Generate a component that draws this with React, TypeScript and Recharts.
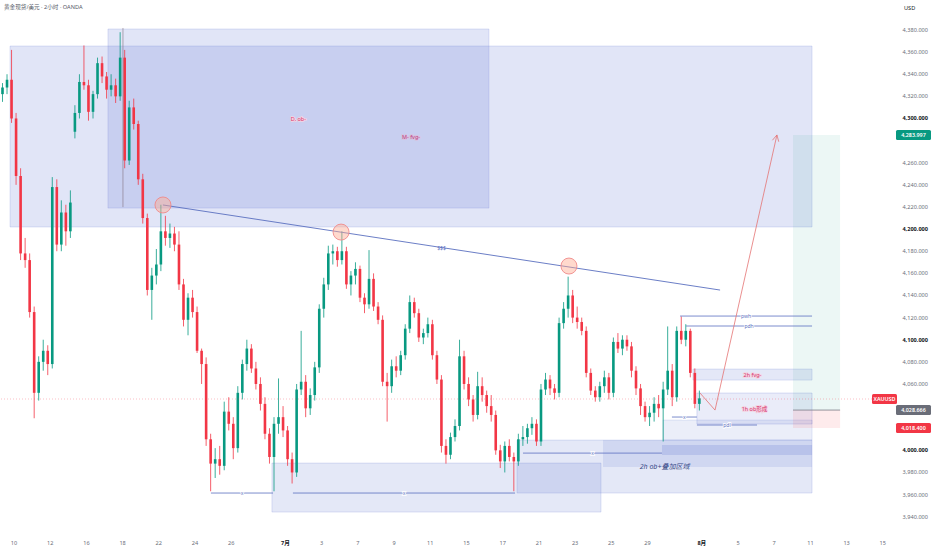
import React from 'react';
import {
  ComposedChart,
  Bar,
  XAxis,
  YAxis,
  ReferenceArea,
  ReferenceLine,
  ReferenceDot,
} from 'recharts';

// candles: four per trading day
const opens = [
  4322, 4328, 4335, 4300, 4248, 4178, 4172, 4125, 4052, 4080,
  4090, 4078, 4238, 4186, 4215, 4198, 4288, 4305, 4333, 4330,
  4306, 4322, 4350, 4338, 4326, 4330, 4320, 4355, 4262, 4310,
  4295, 4245, 4210, 4145, 4158, 4168, 4198, 4192, 4196, 4186,
  4150, 4118, 4138, 4125, 4090, 4078, 4010, 3988, 3992, 3986,
  4035, 4024, 4002, 4052, 4078, 4092, 4074, 4060, 4042, 4015,
  3994, 4024, 4030, 4018, 3992, 3980, 4055, 4062, 4038, 4050,
  4075, 4128, 4150, 4178, 4180, 4172, 4180, 4150, 4158, 4164,
  4138, 4132, 4155, 4130, 4118, 4062, 4058, 4076, 4072, 4086,
  4110, 4134, 4124, 4102, 4106, 4114, 4086, 4064, 4004, 3996,
  4012, 4022, 4085, 4060, 4046, 4032, 4058, 4050, 4040, 4032,
  4000, 3990, 4004, 3994, 3990, 4010, 4012, 4020, 4024, 4008,
  4055, 4064, 4056, 4052, 4115, 4128, 4140, 4120, 4116, 4108,
  4070, 4054, 4048, 4058, 4066, 4052, 4098, 4092, 4100, 4094,
  4072, 4056, 4040, 4030, 4034, 4042, 4038, 4055, 4072, 4048,
  4108, 4100, 4108, 4070, 4042,
];
const highs = [
  4332, 4340, 4362, 4305, 4255, 4192, 4178, 4130, 4085, 4100,
  4095, 4247, 4245, 4226, 4222, 4235, 4312, 4340, 4366, 4335,
  4325, 4355, 4356, 4342, 4340, 4336, 4378, 4362, 4316, 4318,
  4298, 4250, 4214, 4165, 4182, 4222, 4212, 4205, 4202, 4198,
  4155, 4142, 4145, 4130, 4092, 4084, 4015, 4002, 4004, 4044,
  4048, 4030, 4058, 4082, 4100, 4096, 4080, 4066, 4048, 4020,
  4030, 4065, 4040, 4022, 3998, 4060, 4108, 4068, 4056, 4080,
  4132, 4156, 4185, 4186, 4184, 4198, 4184, 4162, 4170, 4167,
  4142, 4181, 4160, 4134, 4122, 4070, 4082, 4085, 4090, 4114,
  4140, 4138, 4128, 4110, 4120, 4118, 4090, 4068, 4010, 4016,
  4028, 4100, 4090, 4066, 4050, 4071, 4066, 4054, 4050, 4036,
  4005, 4008, 4010, 3998, 4015, 4022, 4024, 4030, 4028, 4060,
  4070, 4068, 4060, 4120, 4134, 4157, 4145, 4130, 4120, 4112,
  4074, 4058, 4062, 4072, 4070, 4102, 4106, 4104, 4104, 4098,
  4076, 4060, 4044, 4040, 4048, 4050, 4062, 4112, 4078, 4112,
  4121, 4114, 4110, 4074, 4054,
];
const lows = [
  4315, 4322, 4296, 4240, 4172, 4165, 4120, 4029, 4045, 4072,
  4068, 4074, 4180, 4180, 4185, 4192, 4282, 4300, 4326, 4298,
  4300, 4318, 4332, 4318, 4320, 4314, 4316, 4255, 4258, 4290,
  4240, 4205, 4140, 4118, 4150, 4162, 4185, 4183, 4180, 4145,
  4112, 4104, 4120, 4088, 4060, 4004, 3963, 3975, 3978, 3982,
  4018, 3992, 3998, 4046, 4072, 4070, 4055, 4036, 4010, 3988,
  3963, 4015, 4012, 3986, 3970, 3976, 4050, 4030, 4032, 4045,
  4070, 4120, 4145, 4168, 4166, 4168, 4146, 4140, 4150, 4134,
  4124, 4128, 4126, 4114, 4058, 4026, 4052, 4066, 4068, 4082,
  4106, 4120, 4098, 4096, 4102, 4082, 4060, 3998, 3988, 3992,
  4008, 4018, 4055, 4040, 4026, 4028, 4044, 4034, 4026, 3996,
  3984, 3980, 3990, 3963, 3986, 4004, 4006, 4014, 4004, 4004,
  4050, 4050, 4046, 4048, 4110, 4120, 4115, 4110, 4104, 4066,
  4050, 4044, 4044, 4052, 4046, 4048, 4088, 4086, 4090, 4066,
  4050, 4032, 4026, 4022, 4026, 4030, 4008, 4050, 4040, 4044,
  4096, 4094, 4066, 4038, 4036,
];
const closes = [
  4328, 4335, 4300, 4248, 4178, 4172, 4125, 4052, 4080, 4090,
  4078, 4238, 4186, 4215, 4198, 4224, 4305, 4333, 4330, 4306,
  4322, 4350, 4338, 4326, 4330, 4320, 4355, 4262, 4310, 4295,
  4245, 4210, 4145, 4158, 4168, 4198, 4192, 4196, 4186, 4150,
  4118, 4138, 4125, 4090, 4078, 4010, 3988, 3992, 3986, 4035,
  4024, 4002, 4052, 4078, 4092, 4074, 4060, 4042, 4015, 3994,
  4024, 4030, 4018, 3992, 3980, 4055, 4062, 4038, 4050, 4075,
  4128, 4150, 4178, 4180, 4172, 4180, 4150, 4158, 4164, 4138,
  4132, 4155, 4130, 4118, 4062, 4058, 4076, 4072, 4086, 4110,
  4134, 4124, 4102, 4106, 4114, 4086, 4064, 4004, 3996, 4012,
  4022, 4085, 4060, 4046, 4032, 4058, 4050, 4040, 4032, 4000,
  3990, 4004, 3994, 3990, 4010, 4012, 4020, 4024, 4008, 4055,
  4064, 4056, 4052, 4115, 4128, 4140, 4120, 4116, 4108, 4070,
  4054, 4048, 4058, 4066, 4052, 4098, 4092, 4100, 4094, 4072,
  4056, 4040, 4030, 4034, 4042, 4038, 4055, 4072, 4048, 4108,
  4100, 4108, 4070, 4042, 4047,
];

// time axis in trading days, day 0 = the "10" label
const firstCandleDay = -0.6485;
const candleStep = 0.25;
const dayTicks = [0, 2, 4, 6, 8, 10, 12, 15, 17, 19, 21, 23, 25, 27, 29, 31, 33, 35, 38, 40, 42, 44, 46, 48];
const dayLabels = ['10', '12', '16', '18', '22', '24', '26', '7月', '3', '7', '9', '11', '15', '17', '21', '23', '25', '29', '8月', '5', '7', '11', '13', '15'];
// 4,020 / 4,040 / 4,280 sit under the price badges, so they are not shown
const priceTicks = [
  3940, 3960, 3980, 4000, 4060, 4080, 4100, 4120, 4140, 4160,
  4180, 4200, 4220, 4240, 4260, 4300, 4320, 4340, 4360, 4380,
];

const lastPrice = 4046.4;
const longTarget = 4285.1;
const longEntry = 4036.4;
const longStop = 4020.1;

const candles = closes.map((c, i) => ({
  t: firstCandleDay + i * candleStep,
  range: [lows[i], highs[i]],
  open: opens[i],
  high: highs[i],
  low: lows[i],
  close: c,
}));

const UP = '#089981';
const DOWN = '#f23645';
const BOX = '#5a70d0';
const LINE = '#5a6fc0';
const PINK = '#d6336c';

const fmtPrice = (v: number) => {
  const [int, dec] = v.toFixed(3).split('.');
  return `${int.slice(0, -3)},${int.slice(-3)}.${dec}`;
};

const Candle = (props: any) => {
  const { x, y, width, height, payload } = props;
  if (!payload || height == null) return null;
  const { open, close, high, low } = payload;
  const color = close >= open ? UP : DOWN;
  const cx = x + width / 2;
  const span = high - low || 1;
  const py = (p: number) => y + ((high - p) / span) * height;
  const top = py(Math.max(open, close));
  const bot = py(Math.min(open, close));
  return (
    <g>
      <line x1={cx} x2={cx} y1={y} y2={y + height} stroke={color} strokeWidth={0.8} />
      <rect x={cx - 1.3} y={top} width={2.6} height={Math.max(bot - top, 0.8)} fill={color} />
    </g>
  );
};

const DayTick = (props: any) => {
  const { x, y, payload } = props;
  const label = dayLabels[dayTicks.indexOf(payload.value)] ?? '';
  const month = label.includes('月');
  return (
    <text x={x} y={y + 9} textAnchor="middle" fontSize={5.6} fill={month ? '#131722' : '#6a6d78'} fontWeight={month ? 700 : 400}>
      {label}
    </text>
  );
};

const PriceTick = (props: any) => {
  const { x, y, payload } = props;
  const strong = payload.value % 100 === 0;
  return (
    <text x={x + 30} y={y} textAnchor="end" dominantBaseline="central" fontSize={5.6} fill={strong ? '#131722' : '#6a6d78'} fontWeight={strong ? 700 : 400}>
      {fmtPrice(payload.value)}
    </text>
  );
};

const tag = (text: string, color: string, size = 5.5, halo = '#ffffff', italic = false) => (props: any) => {
  const vb = props.viewBox || {};
  const cx = (vb.x ?? 0) + (vb.width ?? 0) / 2;
  const cy = (vb.y ?? 0) + (vb.height ?? 0) / 2;
  return (
    <text
      x={cx}
      y={cy}
      textAnchor="middle"
      dominantBaseline="central"
      fontSize={size}
      fill={color}
      fontStyle={italic ? 'italic' : 'normal'}
      stroke={halo}
      strokeWidth={1.6}
      paintOrder="stroke"
    >
      {text}
    </text>
  );
};

const badge = (text: string, bg: string, inside = false) => (props: any) => {
  const vb = props.viewBox || {};
  const right = (vb.x ?? 0) + (vb.width ?? 0);
  const w = inside ? 25 : 35;
  const x = inside ? right - 18 : right + 6;
  const y = vb.y ?? 0;
  return (
    <g>
      <rect x={x} y={y - 5} width={w} height={10} rx={1.5} fill={bg} />
      <text x={x + w / 2} y={y} textAnchor="middle" dominantBaseline="central" fontSize={5.4} fill="#ffffff" fontWeight={600}>
        {text}
      </text>
    </g>
  );
};

const seg = (x1: number, y1: number, x2: number, y2: number) => [
  { x: x1, y: y1 },
  { x: x2, y: y2 },
];

const App: React.FC = () => {
  return (
    <div
      style={{
        position: 'absolute',
        left: 0,
        top: 0,
        width: 932,
        height: 550,
        background: '#ffffff',
        fontFamily: "'Noto Sans', 'Noto Sans CJK SC', sans-serif",
        overflow: 'hidden',
      }}
    >
      <ComposedChart width={932} height={550} data={candles} margin={{ top: 0, right: 0, bottom: 0, left: 0 }}>
        <XAxis
          dataKey="t"
          type="number"
          domain={[-0.7735, 48.397]}
          allowDataOverflow
          ticks={dayTicks}
          interval={0}
          tick={<DayTick />}
          tickLine={false}
          axisLine={false}
          height={22}
        />
        <YAxis
          orientation="right"
          domain={[3929.8, 4407.1]}
          allowDataOverflow
          ticks={priceTicks}
          interval={0}
          tick={<PriceTick />}
          tickLine={false}
          axisLine={false}
          width={42}
        />

        {/* supply zones */}
        <ReferenceArea x1={-0.22} x2={44.09} y1={4201.9} y2={4365.5} fill={BOX} fillOpacity={0.18} stroke={BOX} strokeOpacity={0.3} strokeWidth={0.6} label={tag('M- fvg-', PINK, 5.5, '#f4d4e2')} />
        <ReferenceArea x1={5.19} x2={26.24} y1={4219.0} y2={4380.9} fill={BOX} fillOpacity={0.18} stroke={BOX} strokeOpacity={0.3} strokeWidth={0.6} label={tag('D. ob-', PINK, 5.5, '#f4d4e2')} />

        {/* demand zones */}
        <ReferenceArea x1={14.25} x2={32.43} y1={3944.2} y2={3988.5} fill={BOX} fillOpacity={0.16} stroke={BOX} strokeOpacity={0.3} strokeWidth={0.6} />
        <ReferenceArea x1={27.79} x2={44.09} y1={3961.4} y2={4009.3} fill={BOX} fillOpacity={0.16} stroke={BOX} strokeOpacity={0.3} strokeWidth={0.6} label={tag('2h ob+叠加区域', '#34457f', 7, 'none', true)} />
        <ReferenceArea x1={32.54} x2={44.09} y1={3984.9} y2={4009.3} fill={BOX} fillOpacity={0.14} />
        <ReferenceArea x1={35.8} x2={44.09} y1={3995.7} y2={4004.8} fill={BOX} fillOpacity={0.2} />
        <ReferenceArea x1={35.86} x2={44.09} y1={4009.3} y2={4027.4} fill={BOX} fillOpacity={0.12} stroke={BOX} strokeOpacity={0.25} strokeWidth={0.6} />
        <ReferenceArea x1={37.73} x2={44.09} y1={4023.8} y2={4051.8} fill={BOX} fillOpacity={0.13} stroke={BOX} strokeOpacity={0.35} strokeWidth={0.6} label={tag('1h ob形成', PINK, 5.5, '#f4d4e2')} />
        <ReferenceArea x1={37.51} x2={44.09} y1={4063.5} y2={4073.5} fill={BOX} fillOpacity={0.16} stroke={BOX} strokeOpacity={0.3} strokeWidth={0.6} label={tag('2h fvg-', PINK, 5.5, '#f4d4e2')} />

        {/* long position */}
        <ReferenceArea x1={43.04} x2={45.64} y1={longEntry} y2={longTarget} fill={UP} fillOpacity={0.08} />
        <ReferenceArea x1={43.04} x2={45.64} y1={longStop} y2={longEntry} fill={DOWN} fillOpacity={0.1} />

        <Bar dataKey="range" barSize={3} shape={<Candle />} isAnimationActive={false} />

        <ReferenceLine segment={seg(6.02, 4219.9, 6.02, 4381.8)} stroke="#7d6b78" strokeWidth={0.7} strokeOpacity={0.8} />
        <ReferenceLine segment={seg(8.23, 4221.8, 39.01, 4144.9)} stroke={LINE} strokeWidth={0.9} label={tag('$$$', LINE, 5, 'none')} />

        <ReferenceLine segment={seg(10.88, 3961.4, 14.31, 3961.4)} stroke={LINE} strokeWidth={0.8} label={tag('x', LINE, 5)} />
        <ReferenceLine segment={seg(15.41, 3961.4, 27.68, 3961.4)} stroke={LINE} strokeWidth={0.8} label={tag('x', LINE, 5)} />
        <ReferenceLine segment={seg(28.12, 3997.5, 35.8, 3997.5)} stroke={LINE} strokeWidth={0.8} label={tag('x', LINE, 5)} />
        <ReferenceLine segment={seg(36.35, 4030.1, 37.73, 4030.1)} stroke={LINE} strokeWidth={0.8} label={tag('x', LINE, 5)} />
        <ReferenceLine segment={seg(37.73, 4022.9, 41.05, 4022.9)} stroke={LINE} strokeWidth={0.8} label={tag('pdl', LINE, 5)} />
        <ReferenceLine segment={seg(36.8, 4121.4, 44.09, 4121.4)} stroke={LINE} strokeWidth={0.8} label={tag('pwh', LINE, 5)} />
        <ReferenceLine segment={seg(37.13, 4112.4, 44.09, 4112.4)} stroke={LINE} strokeWidth={0.8} label={tag('pdh', LINE, 5)} />

        {/* projected path */}
        <ReferenceLine segment={seg(37.9, 4051.8, 38.73, 4036.4)} stroke="#e57373" strokeWidth={0.8} />
        <ReferenceLine segment={seg(38.73, 4036.4, 42.15, 4285.1)} stroke="#e57373" strokeWidth={0.8} />
        <ReferenceLine segment={seg(41.9, 4280.3, 42.15, 4285.1)} stroke="#e57373" strokeWidth={0.8} />
        <ReferenceLine segment={seg(42.25, 4279.0, 42.15, 4285.1)} stroke="#e57373" strokeWidth={0.8} />

        <ReferenceLine segment={seg(43.04, longEntry, 45.64, longEntry)} stroke="#787b86" strokeWidth={0.8} />

        {/* liquidity highs */}
        <ReferenceDot x={8.23} y={4221.8} r={8} fill="#ffab91" fillOpacity={0.45} stroke="#ef8a8a" strokeWidth={0.9} />
        <ReferenceDot x={18.07} y={4197.3} r={8} fill="#ffab91" fillOpacity={0.45} stroke="#ef8a8a" strokeWidth={0.9} />
        <ReferenceDot x={30.66} y={4166.6} r={8} fill="#ffab91" fillOpacity={0.45} stroke="#ef8a8a" strokeWidth={0.9} />

        <ReferenceLine y={lastPrice} stroke={DOWN} strokeOpacity={0.45} strokeWidth={0.7} strokeDasharray="1 2" label={badge('XAUUSD', DOWN, true)} />
        <ReferenceLine y={longTarget} stroke="none" label={badge(fmtPrice(4283.997), UP)} />
        <ReferenceLine y={longEntry} stroke="none" label={badge(fmtPrice(4028.666), '#6a6d78')} />
        <ReferenceLine y={longStop} stroke="none" label={badge(fmtPrice(4018.4), DOWN)} />
      </ComposedChart>

      <div style={{ position: 'absolute', left: 4, top: 3, fontSize: 5.6, color: '#555a66', whiteSpace: 'nowrap' }}>
        黄金现货/美元 · 2小时 · OANDA
      </div>
      <div style={{ position: 'absolute', left: 904, top: 4, fontSize: 5.6, color: '#131722' }}>USD</div>
    </div>
  );
};

export default App;
